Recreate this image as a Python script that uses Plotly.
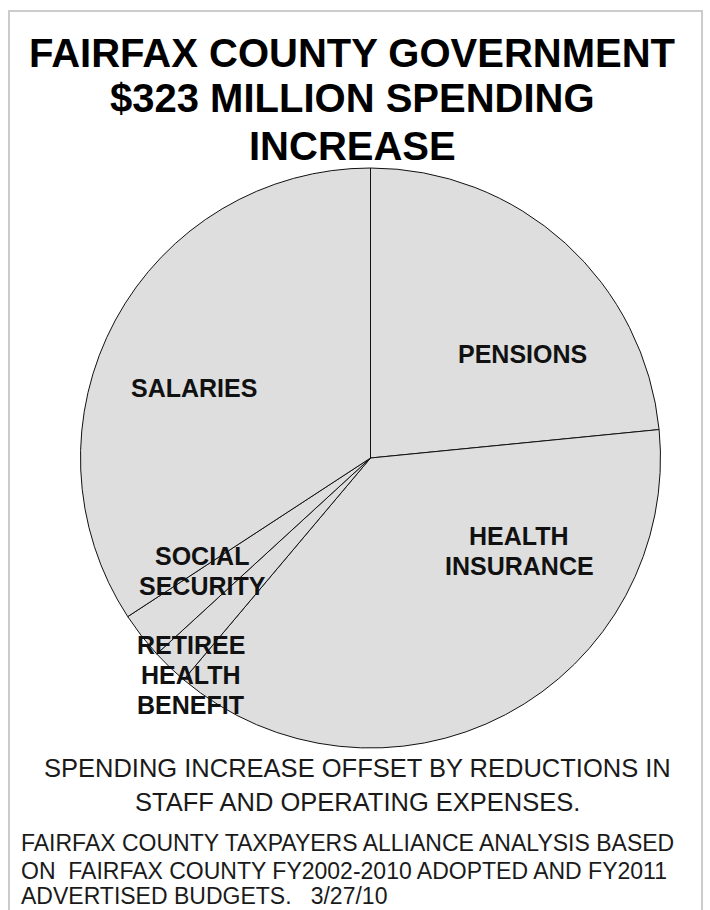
import plotly.graph_objects as go

W, H = 710, 910

# Data (millions of dollars)
categories = ["PENSIONS", "HEALTH<br>INSURANCE", "RETIREE<br>HEALTH<br>BENEFIT", "SOCIAL<br>SECURITY", "SALARIES"]
values = [75.7, 121.8, 6.6, 8.4, 110.5]

title_lines = ["FAIRFAX COUNTY GOVERNMENT", "$323 MILLION SPENDING", "INCREASE"]
note_lines = ["SPENDING INCREASE OFFSET BY REDUCTIONS IN", "STAFF AND OPERATING EXPENSES."]
source_lines = ["FAIRFAX COUNTY TAXPAYERS ALLIANCE ANALYSIS BASED",
                "ON  FAIRFAX COUNTY FY2002-2010 ADOPTED AND FY2011",
                "ADVERTISED BUDGETS.   3/27/10"]


def px(x):
    return x / W


def py(y):
    return 1 - y / H


cx, cy, r = 370.5, 458, 290

fig = go.Figure(go.Pie(
    labels=categories,
    values=values,
    sort=False,
    direction="clockwise",
    rotation=0,
    textinfo="none",
    hoverinfo="label+value",
    marker=dict(colors=["#dedede"] * len(values), line=dict(color="#111111", width=1)),
    domain=dict(x=[px(cx - r), px(cx + r)], y=[py(cy + r), py(cy - r)]),
    showlegend=False,
))

ann = []
FONT = "Liberation Sans, Arial, sans-serif"

# title
for txt, y in zip(title_lines, [53, 98, 146]):
    ann.append(dict(text="<b>%s</b>" % txt, x=px(352), y=py(y), xanchor="center", yanchor="middle",
                    showarrow=False, font=dict(family=FONT, size=40, color="#000000")))

# slice labels (first line centre y, line spacing)
label_pos = [(522, 354), (519, 536), (191, 645), (202, 556), (194, 388)]
for txt, (x, y) in zip(categories, label_pos):
    for i, part in enumerate(txt.split("<br>")):
        ann.append(dict(text="<b>%s</b>" % part, x=px(x), y=py(y + 30 * i), xanchor="center",
                        yanchor="middle", showarrow=False,
                        font=dict(family=FONT, size=25, color="#111111")))

# note lines
for txt, y in zip(note_lines, [768, 802]):
    ann.append(dict(text=txt, x=px(357), y=py(y), xanchor="center", yanchor="middle",
                    showarrow=False, font=dict(family=FONT, size=25.5, color="#1a1a1a")))

# source lines
for txt, y in zip(source_lines, [843, 871, 896]):
    ann.append(dict(text=txt, x=px(19), y=py(y), xanchor="left", yanchor="middle",
                    showarrow=False, font=dict(family=FONT, size=23, color="#1a1a1a")))

fig.update_layout(
    width=W, height=H,
    margin=dict(l=0, r=0, t=0, b=0),
    paper_bgcolor="white",
    plot_bgcolor="white",
    annotations=ann,
    shapes=[dict(type="rect", xref="paper", yref="paper",
                 x0=px(9), x1=px(702), y0=py(930), y1=py(11),
                 line=dict(color="#cccccc", width=2), fillcolor="rgba(0,0,0,0)", layer="below")],
)

fig.write_html("out.html", config={"displayModeBar": False})
